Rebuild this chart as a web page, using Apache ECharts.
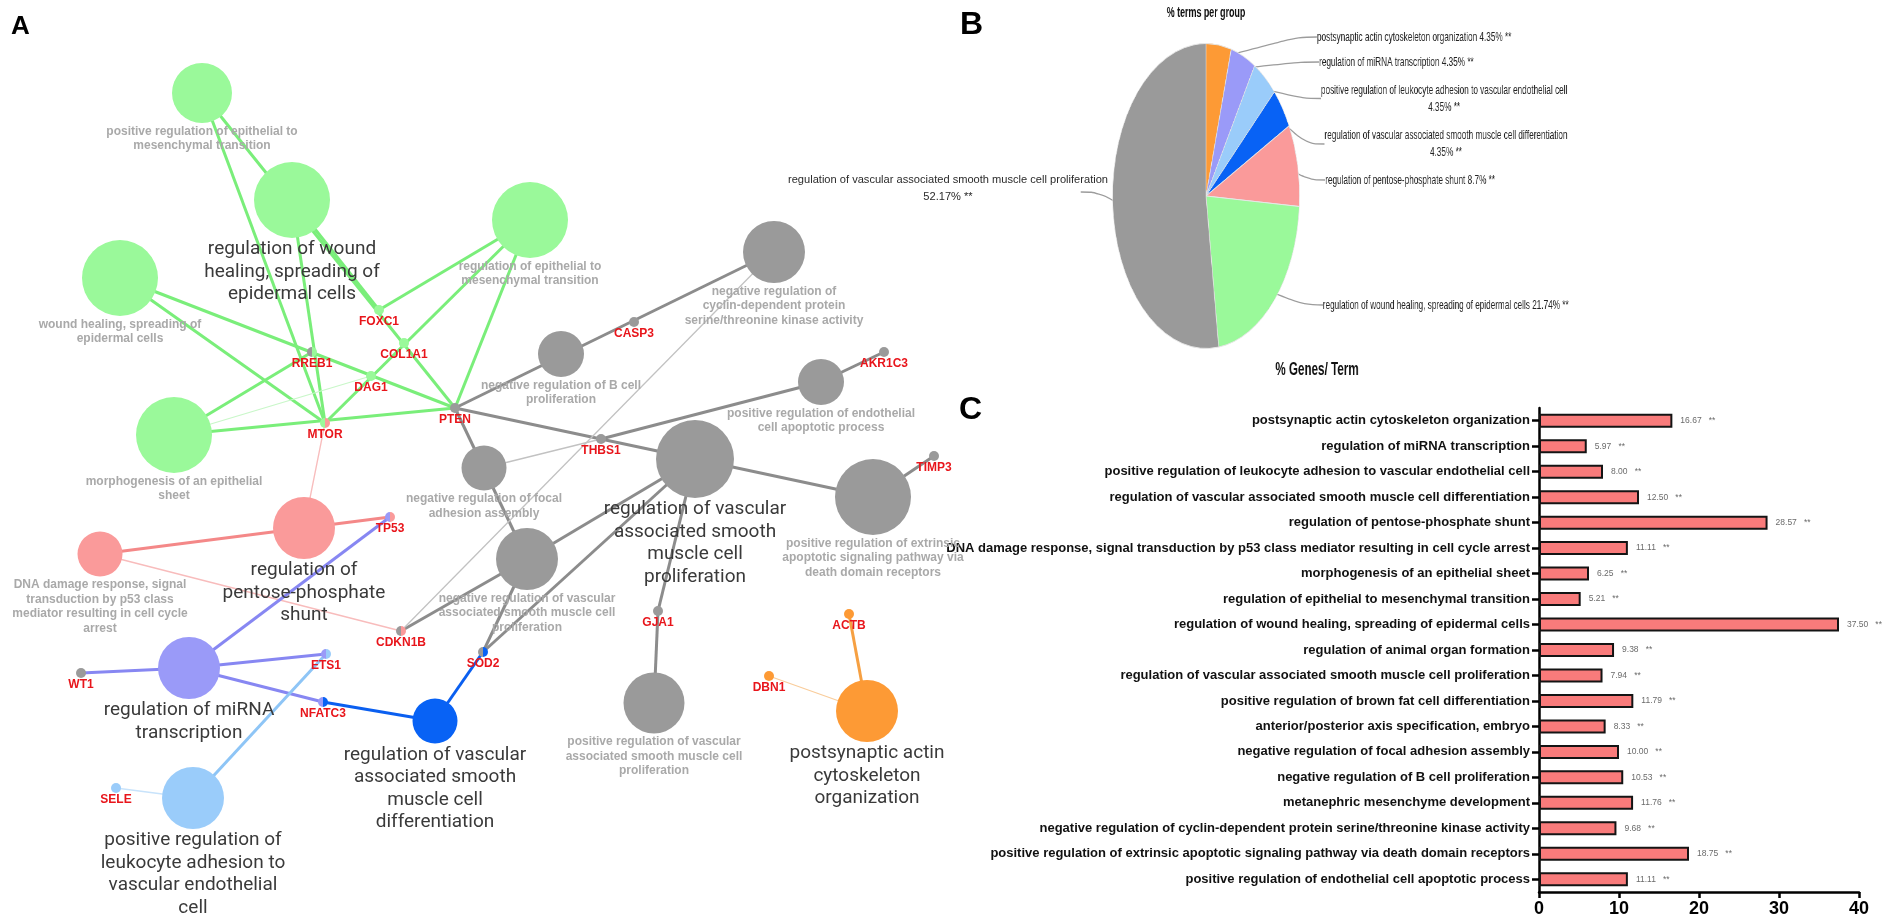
<!DOCTYPE html>
<html><head><meta charset="utf-8">
<script src="https://cdn.jsdelivr.net/npm/echarts@6/dist/echarts.min.js"></script>
<style>
html,body{margin:0;padding:0;background:#fff;}
#main{position:absolute;left:0;top:0;width:1902px;height:923px;}
#pie{position:absolute;left:760px;top:0;width:1400px;height:390px;transform:scaleX(0.613);transform-origin:0 0;}
</style></head><body>
<div id="main"></div><div id="pie"></div>
<script>
// ---------- Panel A: network data ----------
const termIds = ['posEMT','woundReg','woundHeal','regEMT','morph','cyclin','negB','endoApop','focal','prolif','extrinsic','negVasc','posVasc','pentose','dna','mirna','diff','leuk','postsyn'];
const termLabels = [
 'positive regulation of epithelial to\nmesenchymal transition',
 'regulation of wound\nhealing, spreading of\nepidermal cells',
 'wound healing, spreading of\nepidermal cells',
 'regulation of epithelial to\nmesenchymal transition',
 'morphogenesis of an epithelial\nsheet',
 'negative regulation of\ncyclin-dependent protein\nserine/threonine kinase activity',
 'negative regulation of B cell\nproliferation',
 'positive regulation of endothelial\ncell apoptotic process',
 'negative regulation of focal\nadhesion assembly',
 'regulation of vascular\nassociated smooth\nmuscle cell\nproliferation',
 'positive regulation of extrinsic\napoptotic signaling pathway via\ndeath domain receptors',
 'negative regulation of vascular\nassociated smooth muscle cell\nproliferation',
 'positive regulation of vascular\nassociated smooth muscle cell\nproliferation',
 'regulation of\npentose-phosphate\nshunt',
 'DNA damage response, signal\ntransduction by p53 class\nmediator resulting in cell cycle\narrest',
 'regulation of miRNA\ntranscription',
 'regulation of vascular\nassociated smooth\nmuscle cell\ndifferentiation',
 'positive regulation of\nleukocyte adhesion to\nvascular endothelial\ncell',
 'postsynaptic actin\ncytoskeleton\norganization'
];
const termX = [202,292,120,530,174,774,561,821,484,695,873,527,654,304,100,189,435,193,867];
const termY = [93,200,278,220,435,252,354,382,468,459,497,559,703,528,554,668,721,798,711];
const termSize = [60,76,76,76,76,62,46,46,45,78,76,62,61,62,45,62,45,62,62];
const termGroup = ['green','green','green','green','green','gray','gray','gray','gray','gray','gray','gray','gray','pink','pink','purple','blue','lightblue','orange'];
const termLeading = [0,1,0,0,0,0,0,0,0,1,0,0,0,1,0,1,1,1,1];

const geneNames = ['FOXC1','COL1A1','RREB1','DAG1','MTOR','PTEN','CASP3','AKR1C3','THBS1','TIMP3','GJA1','CDKN1B','SOD2','TP53','WT1','ETS1','NFATC3','SELE','ACTB','DBN1'];
const geneX = [379,404,312,371,325,455,634,884,601,934,658,401,483,390,81,326,323,116,849,769];
const geneY = [310,343,352,376,423,408,322,352,439,456,611,631,652,517,673,654,702,788,614,676];
const geneGroups = ['green','green',['gray','green'],'green',['green','pink'],'gray','gray','gray','gray','gray','gray',['gray','pink'],['gray','blue'],['purple','pink'],'gray',['purple','lightblue'],['purple','blue'],'lightblue','orange','orange'];

const linkSource = ['posEMT','posEMT','woundReg','woundReg','woundHeal','woundHeal','morph','morph','morph','regEMT','regEMT','regEMT','cyclin','prolif','endoApop','endoApop','focal','negVasc','prolif','extrinsic','prolif','prolif','negVasc','negVasc','cyclin','prolif','posVasc','pentose','dna','dna','mirna','mirna','mirna','mirna','diff','diff','leuk','leuk','postsyn','postsyn'];
const linkTarget = ['PTEN','MTOR','FOXC1','MTOR','PTEN','MTOR','RREB1','DAG1','PTEN','MTOR','FOXC1','PTEN','PTEN','PTEN','THBS1','AKR1C3','THBS1','PTEN','extrinsic','TIMP3','negVasc','SOD2','SOD2','CDKN1B','CDKN1B','GJA1','GJA1','MTOR','TP53','CDKN1B','TP53','WT1','ETS1','NFATC3','NFATC3','SOD2','ETS1','SELE','ACTB','DBN1'];

// ---------- Panel B: pie data ----------
const pieNames = ['postsynaptic actin cytoskeleton organization','regulation of miRNA transcription','positive regulation of leukocyte adhesion to vascular endothelial cell','regulation of vascular associated smooth muscle cell differentiation','regulation of pentose-phosphate shunt','regulation of wound healing, spreading of epidermal cells','regulation of vascular associated smooth muscle cell proliferation'];
const pieValues = [4.35,4.35,4.35,4.35,8.7,21.74,52.17];
const pieGroups = ['orange','purple','lightblue','blue','pink','green','gray'];

// ---------- Panel C: bar data ----------
const barCategories = ['postsynaptic actin cytoskeleton organization','regulation of miRNA transcription','positive regulation of leukocyte adhesion to vascular endothelial cell','regulation of vascular associated smooth muscle cell differentiation','regulation of pentose-phosphate shunt','DNA damage response, signal transduction by p53 class mediator resulting in cell cycle arrest','morphogenesis of an epithelial sheet','regulation of epithelial to mesenchymal transition','regulation of wound healing, spreading of epidermal cells','regulation of animal organ formation','regulation of vascular associated smooth muscle cell proliferation','positive regulation of brown fat cell differentiation','anterior/posterior axis specification, embryo','negative regulation of focal adhesion assembly','negative regulation of B cell proliferation','metanephric mesenchyme development','negative regulation of cyclin-dependent protein serine/threonine kinase activity','positive regulation of extrinsic apoptotic signaling pathway via death domain receptors','positive regulation of endothelial cell apoptotic process'];
const barValues = [16.67,5.97,8.00,12.50,28.57,11.11,6.25,5.21,37.50,9.38,7.94,11.79,8.33,10.00,10.53,11.76,9.68,18.75,11.11];
const xTicks = [0,10,20,30,40];

// ---------- styles ----------
const FONT = '"Liberation Sans", Arial, sans-serif';
const nodeColor = {green:'#9af99a',gray:'#9a9a9a',pink:'#fa9a9a',purple:'#9a9af8',blue:'#0862f5',lightblue:'#9accfa',orange:'#fd9a35'};
const edgeColor = {green:'#7aee7a',gray:'#8c8c8c',pink:'#f48888',purple:'#8787f2',blue:'#0a5ff0',lightblue:'#8ec5f6',orange:'#f6a042'};
const thinColor = {green:'#c9f7c9',gray:'#c2c2c2',pink:'#f8bcbc',lightblue:'#c8e3fb',orange:'#f9cd9c'};
const thinLinks = new Set(['morph>DAG1','focal>THBS1','cyclin>CDKN1B','pentose>MTOR','dna>CDKN1B','leuk>SELE','postsyn>DBN1']);

const smallLabel = {fontFamily:FONT,fontSize:12,fontWeight:'bold',color:'#a9a9a9',lineHeight:14.5,align:'center'};
const bigLabel = {fontFamily:'Roboto, "Noto Sans", sans-serif',fontSize:19,color:'#3a3a3a',lineHeight:22.5,align:'center'};

const groupOf = {};
termIds.forEach((id,i)=>{groupOf[id]=termGroup[i];});

const nodes = [];
termIds.forEach((id,i)=>{
  const lead = termLeading[i]===1;
  nodes.push({
    name:id, value:[termX[i],termY[i]], symbolSize:termSize[i],
    itemStyle:{color:nodeColor[termGroup[i]]},
    label:Object.assign({show:true,position:'bottom',distance:lead?0:1,formatter:()=>termLabels[i]}, lead?bigLabel:smallLabel)
  });
});
geneNames.forEach((g,i)=>{
  const gr = geneGroups[i];
  let color;
  if (Array.isArray(gr)) {
    const a = nodeColor[gr[0]], b = nodeColor[gr[1]];
    color = new echarts.graphic.LinearGradient(0,0,1,0,[{offset:0,color:a},{offset:0.5,color:a},{offset:0.5,color:b},{offset:1,color:b}]);
  } else color = nodeColor[gr];
  nodes.push({
    name:g, value:[geneX[i],geneY[i]], symbolSize:10,
    itemStyle:{color},
    label:{show:true,position:'bottom',distance:1,formatter:g,fontFamily:FONT,fontSize:12,fontWeight:'bold',color:'#e8151b'}
  });
});
const links = linkSource.map((s,i)=>{
  const t = linkTarget[i];
  const thin = thinLinks.has(s+'>'+t);
  const g = groupOf[s];
  return {source:s,target:t,lineStyle:{color:thin?thinColor[g]:edgeColor[g],width:thin?1.3:3,opacity:1,curveness:0}};
});

// ---------- main chart ----------
const main = echarts.init(document.getElementById('main'),null,{renderer:'canvas'});
const last = pieNames.length-1;
main.setOption({
  animation:false,
  backgroundColor:'transparent',
  textStyle:{fontFamily:FONT},
  grid:[
    {left:0,top:0,width:1000,height:923},
    {left:1539,top:408,width:320,height:484}
  ],
  xAxis:[
    {gridIndex:0,type:'value',min:0,max:1000,show:false},
    {gridIndex:1,type:'value',min:0,max:40,interval:10,
     axisLine:{show:true,lineStyle:{color:'#000',width:2.5}},
     axisTick:{show:true,length:6,lineStyle:{color:'#000',width:2.5}},
     axisLabel:{fontFamily:FONT,fontSize:18,fontWeight:'bold',color:'#000',margin:8,
       formatter:v=>xTicks.indexOf(v)>=0?String(v):''},
     splitLine:{show:false}}
  ],
  yAxis:[
    {gridIndex:0,type:'value',min:0,max:923,inverse:true,show:false},
    {gridIndex:1,type:'category',inverse:true,data:barCategories,
     axisLine:{show:true,lineStyle:{color:'#000',width:2.5}},
     axisTick:{show:true,alignWithLabel:true,length:7,lineStyle:{color:'#000',width:2.5}},
     axisLabel:{interval:0,fontFamily:FONT,fontSize:13,fontWeight:'bold',color:'#111',margin:9}}
  ],
  graphic:[
    {type:'text',left:11,top:14,style:{text:'A',font:'bold 26px '+FONT,fill:'#000'}},
    {type:'text',left:960,top:9,style:{text:'B',font:'bold 32px '+FONT,fill:'#000'}},
    {type:'text',left:959,top:394,style:{text:'C',font:'bold 32px '+FONT,fill:'#000'}},
    {type:'text',x:948,y:188,style:{text:pieNames[last]+'\n'+pieValues[last]+'% **',font:'11.1px '+FONT,fill:'#2a2a2a',align:'center',verticalAlign:'middle',lineHeight:17}}
  ],
  series:[
    {type:'graph',coordinateSystem:'cartesian2d',xAxisIndex:0,yAxisIndex:0,
     symbol:'circle',data:nodes,links:links,silent:true,
     lineStyle:{opacity:1,curveness:0},emphasis:{disabled:true}},
    {type:'bar',xAxisIndex:1,yAxisIndex:1,data:barValues,barWidth:14,silent:true,
     itemStyle:{color:'#f97b7b',borderColor:'#141414',borderWidth:2},
     label:{show:true,position:'right',distance:8,fontFamily:FONT,fontSize:8.5,color:'#6b6b6b',
       formatter:p=>p.value.toFixed(2)+'   **'}}
  ]
});

// ---------- pie chart (panel B, horizontally compressed as in the figure) ----------
const pie = echarts.init(document.getElementById('pie'),null,{renderer:'canvas'});
const wrapLabel = [false,false,true,true,false,false,true];
const labelPos = [
  {x:908.6,y:37,align:'left'},
  {x:912,y:62,align:'left'},
  {x:1116,y:98.5,align:'center'},
  {x:1119,y:144,align:'center'},
  {x:922,y:180,align:'left'},
  {x:918,y:305,align:'left'},
  {x:330,y:192,align:'center'}
];
const pieData = pieNames.map((n,i)=>({name:n,value:pieValues[i],itemStyle:{color:nodeColor[pieGroups[i]]}}));
pie.setOption({
  animation:false,
  backgroundColor:'transparent',
  graphic:[
    {type:'text',x:727.6,y:13,style:{text:'% terms per group',font:'bold 14.5px '+FONT,fill:'#111',align:'center',verticalAlign:'middle'}},
    {type:'text',x:908.6,y:370,style:{text:'% Genes/ Term',font:'bold 19px '+FONT,fill:'#111',align:'center',verticalAlign:'middle'}}
  ],
  series:[
    {type:'pie',radius:152.5,center:[727.6,196],startAngle:90,clockwise:true,silent:true,
     data:pieData,label:{show:false},labelLine:{show:false},
     itemStyle:{borderColor:'#e6e6e6',borderWidth:1}},
    {type:'pie',radius:139,center:[727.6,196],startAngle:90,clockwise:true,silent:true,
     data:pieNames.map((n,i)=>({name:n,value:pieValues[i],
        label:i===last?{color:'rgba(0,0,0,0)'}:undefined})),
     itemStyle:{color:'rgba(0,0,0,0)'},
     label:{show:true,overflow:'none',fontFamily:FONT,fontSize:13.4,color:'#222',lineHeight:17,align:'center',
       formatter:p=>p.name+(wrapLabel[p.dataIndex]?'\n':' ')+p.value+'% **'},
     labelLine:{show:true,length:20,length2:30,smooth:0.4,lineStyle:{color:'#9c9c9c',width:1.3}},
     labelLayout:p=>Object.assign({verticalAlign:'middle'},labelPos[p.dataIndex])}
  ]
});
</script>
</body></html>
